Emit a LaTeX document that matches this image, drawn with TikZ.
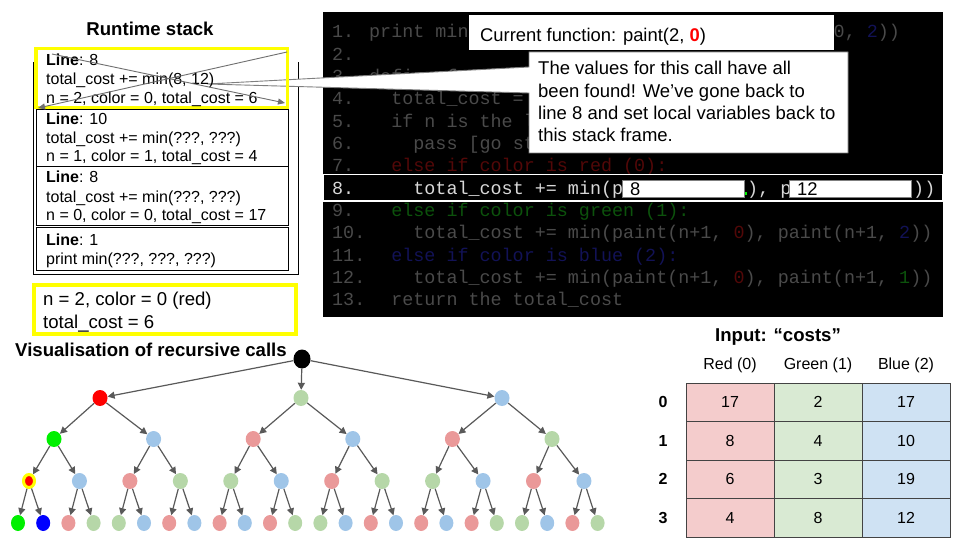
\documentclass[tikz,border=0pt]{standalone}
\usepackage{fontspec}
\setmainfont{Liberation Sans}
\setmonofont{Liberation Mono}
\usetikzlibrary{arrows.meta,shapes.geometric}
\definecolor{pR}{HTML}{EA9999}
\definecolor{pG}{HTML}{B6D7A8}
\definecolor{pB}{HTML}{9FC5E8}
\definecolor{bR}{HTML}{FF0000}
\definecolor{bG}{HTML}{00F000}
\definecolor{bB}{HTML}{0000FF}
\definecolor{tR}{HTML}{F4CCCC}
\definecolor{tG}{HTML}{D9EAD3}
\definecolor{tB}{HTML}{CFE2F3}
\definecolor{ylw}{HTML}{FFFF00}
\definecolor{cgray}{HTML}{4A4A4A}
\definecolor{cred}{HTML}{520808}
\definecolor{cgreen}{HTML}{0C520C}
\definecolor{cblue}{HTML}{121256}
\definecolor{chl}{HTML}{D8D8D8}
\definecolor{agray}{HTML}{595959}
\definecolor{sgray}{HTML}{6F6F6F}
\definecolor{tgray}{HTML}{434343}
\definecolor{bgray}{HTML}{7F7F7F}
\begin{document}
\begin{tikzpicture}[x=1pt,y=-1pt,
 txt/.style={inner sep=0pt, anchor=base west, font=\fontsize{16}{19}\selectfont},
 big/.style={inner sep=0pt, anchor=base west, font=\fontsize{18.5}{22}\selectfont},
 codetxt/.style={inner sep=0pt, anchor=base west, font=\fontsize{18.4}{22}\ttfamily, text=cgray},
 tn/.style={ellipse, inner sep=0pt, minimum width=15pt, minimum height=16pt},
 arr/.style={draw=agray, line width=1.2pt, -{Triangle[length=7pt,width=7pt]}},
 sarr/.style={draw=sgray, line width=0.9pt, -{Triangle[length=7pt,width=6pt]}},
 cell/.style={draw=tgray, line width=0.9pt, minimum width=88pt, minimum height=38.5pt, inner sep=0pt, font=\fontsize{16}{19}\selectfont},
 valbox/.style={draw=bgray, fill=white, line width=0.8pt, minimum height=17pt, minimum width=122pt, inner sep=0pt},
]
\useasboundingbox (0,0) rectangle (960,540);

% ---------- Runtime stack ----------
\node[inner sep=0pt, anchor=base, font=\fontsize{18.6}{22}\selectfont\bfseries] (stacktitle) at (150,35.7) {Runtime stack};
\draw[line width=0.9pt] (33,62) -- (33,274) -- (298,274) -- (298,62);
\draw[line width=0.9pt] (36,109) rectangle (288.5,166);
\draw[line width=0.9pt] (36,166) rectangle (288.5,225);
\draw[line width=0.9pt] (36,227) rectangle (288.5,270);
\fill[white] (36,48.5) rectangle (287.5,107.5);

% ---------- Code area ----------
\fill[black] (323,12) rectangle (943,317);
\node[codetxt] (n1) at (332,37.7) {1.};
\node[codetxt] (n2) at (332,60.05) {2.};
\node[codetxt] (n3) at (332,82.4) {3.};
\node[codetxt] (n4) at (332,104.75) {4.};
\node[codetxt] (n5) at (332,127.1) {5.};
\node[codetxt] (n6) at (332,149.45) {6.};
\node[codetxt] (n7) at (332,171.8) {7.};
\node[codetxt] (n9) at (332,216.5) {9.};
\node[codetxt] (n10) at (332,238.85) {10.};
\node[codetxt] (n11) at (332,261.2) {11.};
\node[codetxt] (n12) at (332,283.55) {12.};
\node[codetxt] (n13) at (332,305.9) {13.};
\node[codetxt] (c1) at (369,37.7) {print min};
\node[codetxt] (c1b) at (833.5,37.7) {0, \textcolor{cblue}{2}))};
\node[codetxt] (c3) at (369,82.4) {define f};
\node[codetxt] (c4) at (391.1,104.75) {total\_cost =};
\node[codetxt] (c5) at (391.1,127.1) {if n is the l};
\node[codetxt] (c6) at (413.2,149.45) {pass [go st};
\node[codetxt, text=cred] (c7) at (391.1,171.8) {else if color is red (0):};
\node[codetxt, text=cgreen] (c9) at (391.1,216.5) {else if color is green (1):};
\node[codetxt] (c10) at (413.2,238.85) {total\_cost += min(paint(n+1, \textcolor{cred}{0}), paint(n+1, \textcolor{cblue}{2}))};
\node[codetxt, text=cblue] (c11) at (391.1,261.2) {else if color is blue (2):};
\node[codetxt] (c12) at (413.2,283.55) {total\_cost += min(paint(n+1, \textcolor{cred}{0}), paint(n+1, \textcolor{cgreen}{1}))};
\node[codetxt] (c13) at (391.1,305.9) {return the total\_cost};
% highlighted line 8
\draw[white, fill=black, line width=1.2pt] (323,174.3) rectangle (943,201);
\node[codetxt, text=chl] (n8) at (332,194.15) {8.};
\node[codetxt, text=chl] (c8a) at (413.2,194.15) {total\_cost += min(p};
\node[codetxt, text=chl] (c8b) at (747,194.15) {), p};
\node[codetxt, text=chl] (c8c) at (913,194.15) {))};
\fill[bG] (744.5,192) rectangle (746.5,194.5);
\node[valbox, anchor=north west] (v1) at (622,180) {};
\node[valbox, anchor=north west] (v2) at (789,180) {};
\node[big, font=\fontsize{18.4}{22}\selectfont] (v1t) at (630,195) {8};
\node[big, font=\fontsize{18.4}{22}\selectfont] (v2t) at (797,195) {12};

% ---------- Callouts ----------
\fill[white] (469,15) rectangle (834,50);
\node[big, font=\fontsize{18.4}{22}\selectfont] (cur) at (480,42) {Current function: paint(2, {\bfseries\color{bR}0})};
\draw[draw=bgray, fill=white, line width=0.9pt] (529,52) -- (848,52) -- (848,153) -- (529,153) -- (529,93) -- (207,84) -- (529,67) -- cycle;
\node[big] (m1) at (538,74.5) {The values for this call have all};
\node[big] (m2) at (538,97.5) {been found! We’ve gone back to};
\node[big] (m3) at (538,119.5) {line 8 and set local variables back to};
\node[big] (m4) at (538,142) {this stack frame.};

% yellow highlighted frame
\draw[ylw, line width=3.5pt] (36,48.5) rectangle (287.5,107.5);

% stack texts
\node[txt] (s1a) at (46,65.8) {\textbf{Line}: 8};
\node[txt] (s1b) at (46,84.1) {total\_cost += min(8, 12)};
\node[txt] (s1c) at (46,103.1) {n = 2, color = 0, total\_cost = 6};
\node[txt] (s2a) at (46,124.1) {\textbf{Line}: 10};
\node[txt] (s2b) at (46,143.1) {total\_cost += min(???, ???)};
\node[txt] (s2c) at (46,161.5) {n = 1, color = 1, total\_cost = 4};
\node[txt] (s3a) at (46,182.5) {\textbf{Line}: 8};
\node[txt] (s3b) at (46,202.5) {total\_cost += min(???, ???)};
\node[txt] (s3c) at (46,220.8) {n = 0, color = 0, total\_cost = 17};
\node[txt] (s4a) at (46,245.8) {\textbf{Line}: 1};
\node[txt] (s4b) at (46,264.8) {print min(???, ???, ???)};

% crossing arrows
\coordinate (sa1) at (287,52);
\coordinate (sa2) at (38,108);
\coordinate (sb1) at (52,54);
\coordinate (sb2) at (285,103);
\draw[sarr] (sa1) -- (sa2);
\draw[sarr] (sb1) -- (sb2);

% current values box
\draw[ylw, line width=4pt] (34,285) rectangle (296,334);
\node[big, font=\fontsize{18.6}{22}\selectfont] (cv1) at (43,305.5) {n = 2, color = 0 (red)};
\node[big, font=\fontsize{18.6}{22}\selectfont] (cv2) at (43,328.5) {total\_cost = 6};

% ---------- Tree ----------
\node[inner sep=0pt, anchor=base west, font=\fontsize{18.6}{22}\selectfont\bfseries] (treetitle) at (15,356.5) {Visualisation of recursive calls};
\node[tn, fill=black, minimum width=17pt, minimum height=19pt] (root) at (302,359) {};
\foreach \c [count=\i from 0] in {bR,pG,pB}
  \node[tn, fill=\c] (d1-\i) at ({100+201*\i},398) {};
\foreach \c [count=\i from 0] in {bG,pB,pR,pB,pR,pG}
  \node[tn, fill=\c] (d2-\i) at ({54+99.6*\i},439) {};
\node[tn, fill=bR, draw=ylw, line width=3pt, minimum width=11pt, minimum height=13pt] (d3-0) at (29,481) {};
\foreach \c [count=\i from 1] in {pB,pR,pG,pG,pB,pR,pG,pG,pB,pR,pB}
  \node[tn, fill=\c] (d3-\i) at ({29+50.45*\i},481) {};
\foreach \c [count=\i from 0] in {bG,bB,pR,pG,pG,pB,pR,pB,pR,pB,pR,pG,pG,pB,pR,pB,pR,pB,pR,pG,pG,pB,pR,pG}
  \node[tn, fill=\c, minimum width=14pt] (d4-\i) at ({18+25.2*\i},523) {};
\foreach \m in {0,1,2} \draw[arr] (root) -- (d1-\m);
\foreach \m in {0,1,2} {
  \pgfmathtruncatemacro{\a}{2*\m}\pgfmathtruncatemacro{\b}{2*\m+1}
  \draw[arr] (d1-\m) -- (d2-\a);
  \draw[arr] (d1-\m) -- (d2-\b);
}
\foreach \m in {0,...,5} {
  \pgfmathtruncatemacro{\a}{2*\m}\pgfmathtruncatemacro{\b}{2*\m+1}
  \draw[arr] (d2-\m) -- (d3-\a);
  \draw[arr] (d2-\m) -- (d3-\b);
}
\foreach \m in {0,...,11} {
  \pgfmathtruncatemacro{\a}{2*\m}\pgfmathtruncatemacro{\b}{2*\m+1}
  \draw[arr] (d3-\m) -- (d4-\a);
  \draw[arr] (d3-\m) -- (d4-\b);
}

% ---------- Table ----------
\node[inner sep=0pt, anchor=base, font=\fontsize{18.6}{22}\selectfont\bfseries] (intitle) at (778,341) {Input: “costs”};
\node[inner sep=0pt, font=\fontsize{16}{19}\selectfont] (h0) at (730,365) {Red (0)};
\node[inner sep=0pt, font=\fontsize{16}{19}\selectfont] (h1) at (818,365) {Green (1)};
\node[inner sep=0pt, font=\fontsize{16}{19}\selectfont] (h2) at (906,365) {Blue (2)};
\foreach \r/\a/\b/\cc [count=\i from 0] in {0/17/2/17, 1/8/4/10, 2/6/3/19, 3/4/8/12} {
  \node[inner sep=0pt, font=\fontsize{16}{19}\selectfont\bfseries] (r\i) at (663,{402.25+38.5*\i}) {\r};
  \node[cell, fill=tR] (t\i-0) at (730,{402.25+38.5*\i}) {\a};
  \node[cell, fill=tG] (t\i-1) at (818,{402.25+38.5*\i}) {\b};
  \node[cell, fill=tB] (t\i-2) at (906,{402.25+38.5*\i}) {\cc};
}
\end{tikzpicture}
\end{document}
